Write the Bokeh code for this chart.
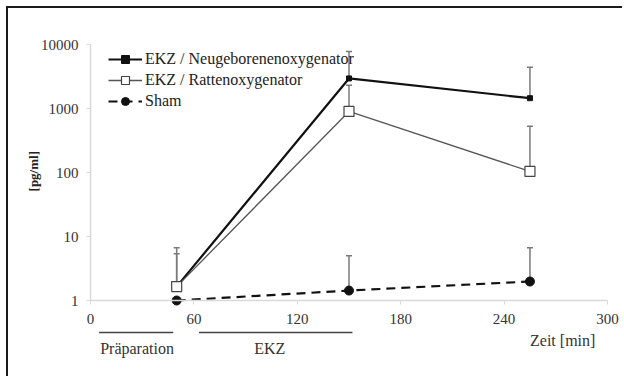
import math
from bokeh.plotting import figure
from bokeh.models import Range1d, FixedTicker, Legend, LegendItem
from bokeh.core.properties import value
from bokeh.embed import file_html
from bokeh.resources import INLINE

# Sampling times [min]
times = [50, 150, 255]

# Mean concentrations [pg/ml] and upper error limits (mean + SD)
neu_mean = [1.65, 2950, 1450]
neu_upper = [6.7, 7800, 4400]
rat_mean = [1.65, 900, 104]
rat_upper = [5.4, 2300, 530]
sham_mean = [1.0, 1.43, 1.98]
sham_times_err = [150, 255]
sham_upper = [5.0, 6.7]

x_ticks = [0, 60, 120, 180, 240, 300]
y_ticks = [1, 10, 100, 1000, 10000]

FONT = "Liberation Serif"
TXT = "#333333"
ERR = "#7a7a7a"
AXIS = "#d9d9d9"

# scale: pixels per decade (y) and per minute (x)
PX_DEC = 64.0
PX_MIN = 517 / 300.0
frame_bottom_extra = 70   # frame continues below y=1 for the phase annotations
frame_left_extra = 82     # frame continues left of t=0 for the axis title
frame_top_extra = 36      # room above 10000 for its tick label
frame_right_extra = 17    # room right of 300 min for its tick label
y_lo = 10 ** (-frame_bottom_extra / PX_DEC)
y_hi = 10 ** (4 + frame_top_extra / PX_DEC)
x_lo = -frame_left_extra / PX_MIN
x_hi = 300 + frame_right_extra / PX_MIN

p = figure(
    width=616, height=370,
    x_range=Range1d(x_lo, x_hi), y_range=Range1d(y_lo, y_hi),
    y_axis_type="log",
    output_backend="svg", toolbar_location=None,
    min_border_left=0, min_border_right=0, min_border_top=0, min_border_bottom=8,
    styles={"margin-left": "6px", "margin-top": "6px",
            "border-left": "2px solid #1a1a1a", "border-top": "2px solid #1a1a1a"},
)
p.outline_line_color = None
p.grid.visible = False
p.background_fill_color = "white"

# axes drawn through the origin (t=0, 1 pg/ml)
p.xaxis.fixed_location = 1
p.yaxis.fixed_location = 0
p.xaxis.bounds = (0, 300)
p.yaxis.bounds = (1, 10000)
p.xaxis.ticker = FixedTicker(ticks=x_ticks)
p.yaxis.ticker = FixedTicker(ticks=y_ticks)
p.yaxis.major_label_overrides = {t: str(t) for t in y_ticks}
for ax in (p.xaxis[0], p.yaxis[0]):
    ax.axis_line_color = AXIS
    ax.axis_line_width = 1.5
    ax.major_tick_line_color = AXIS
    ax.major_tick_in = 0
    ax.major_tick_out = 4
    ax.minor_tick_line_color = None
    ax.major_label_text_font = FONT
    ax.major_label_text_font_size = "15px"
    ax.major_label_text_color = TXT
p.xaxis.major_label_standoff = 9
p.yaxis.major_label_standoff = 8

# error bars (upper whisker only)
def whiskers(xs, lo, hi):
    p.segment(x0=xs, y0=lo, x1=xs, y1=hi, line_color=ERR, line_width=1.5)
    p.scatter(x=xs, y=hi, marker="dash", size=6, line_color=ERR, line_width=1.5)

whiskers(times, neu_mean, neu_upper)
whiskers(times, rat_mean, rat_upper)
whiskers(sham_times_err, sham_mean[1:], sham_upper)

# series
l_neu = p.line(times, neu_mean, line_color="#111111", line_width=2.2)
m_neu = p.scatter(times, neu_mean, marker="square", size=5,
                  fill_color="#111111", line_color="#111111")
l_rat = p.line(times, rat_mean, line_color="#555555", line_width=1.3)
m_rat = p.scatter(times, rat_mean, marker="square", size=10,
                  fill_color="white", line_color="#444444", line_width=1.2)
l_sham = p.line(times, sham_mean, line_color="#111111", line_width=2.2, line_dash="9 6")
m_sham = p.scatter(times, sham_mean, marker="circle", size=9,
                   fill_color="#111111", line_color="#111111")

legend = Legend(items=[
    LegendItem(label="EKZ / Neugeborenenoxygenator", renderers=[l_neu, m_neu]),
    LegendItem(label="EKZ / Rattenoxygenator", renderers=[l_rat, m_rat]),
    LegendItem(label="Sham", renderers=[l_sham, m_sham]),
], location=(100, 259))
legend.background_fill_alpha = 0
legend.border_line_color = None
legend.label_text_font = FONT
legend.label_text_font_size = "16px"
legend.label_text_color = "#222222"
legend.glyph_width = 34
legend.glyph_height = 20
legend.label_height = 20
legend.spacing = 1
legend.margin = 0
legend.padding = 0
legend.label_standoff = 3
p.add_layout(legend)

# phase annotations below the time axis
def y_px(px_below):
    return 10 ** (-px_below / PX_DEC)

p.segment(x0=[5, 63], y0=[y_px(32)] * 2, x1=[48, 152], y1=[y_px(32)] * 2,
          line_color="#444444", line_width=1.5)
p.text(x=[27, 104], y=[y_px(48)] * 2, text=["Präparation", "EKZ"],
       text_font=value(FONT), text_font_size="16px", text_color=TXT,
       text_align="center", text_baseline="middle")
p.text(x=[274], y=[y_px(40)], text=["Zeit [min]"],
       text_font=value(FONT), text_font_size="16px", text_color=TXT,
       text_align="center", text_baseline="middle")

# y axis title
p.text(x=[-33], y=[10 ** 2.02], text=["[pg/ml]"], angle=math.pi / 2,
       text_font=value(FONT), text_font_size="13px", text_font_style="bold",
       text_color="#222222", text_align="center", text_baseline="middle")

open("out.html", "w").write(file_html(p, INLINE))
